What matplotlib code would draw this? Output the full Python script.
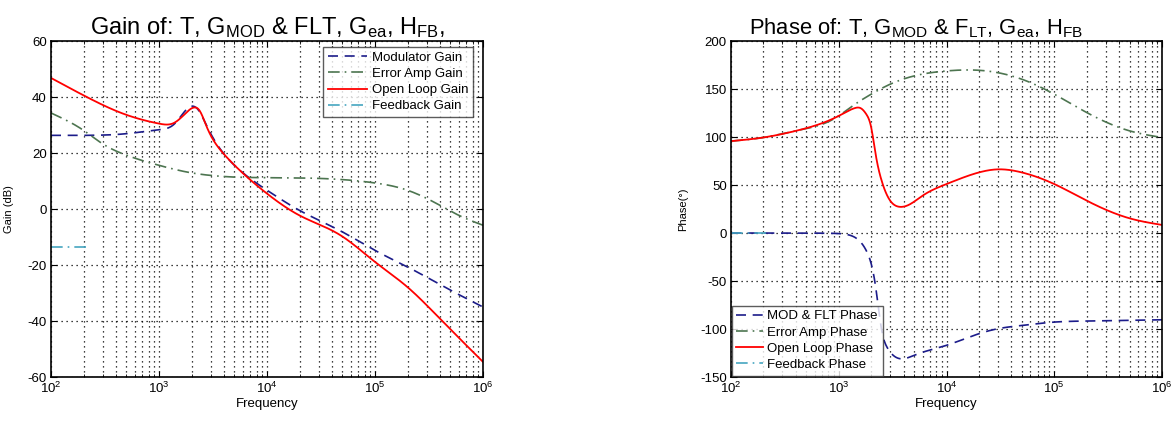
import numpy as np
import matplotlib
matplotlib.use("Agg")
import matplotlib.pyplot as plt
from matplotlib.ticker import LogLocator, NullFormatter

plt.rcParams['font.family'] = ['Liberation Sans', 'DejaVu Sans']
plt.rcParams['mathtext.fontset'] = 'custom'
plt.rcParams['mathtext.rm'] = 'Liberation Sans'
plt.rcParams['mathtext.it'] = 'Liberation Sans'
plt.rcParams['axes.unicode_minus'] = False

# ---- Gain data (dB) ----
f_ol_gain = [100, 200, 469, 1000, 1370, 1690, 2080, 2370, 2770, 3200, 3950, 5600,
             10000, 20000, 48000, 100000, 200000, 400000, 1000000]
ol_gain = [46.8, 40.6, 34.0, 30.5, 30.7, 33.5, 36.2, 35.2, 29.3, 24.5, 19.8, 13.8,
           5.5, -2.3, -9.4, -18.9, -27.9, -39.2, -54.6]

f_mod_gain = [100, 200, 500, 1000, 1400, 2000, 2300, 2800, 3500, 5000, 10000, 20000,
              50000, 100000, 200000, 500000, 1000000]
mod_gain = [26.3, 26.3, 26.9, 28.3, 30.5, 36.7, 35.5, 29.3, 22.7, 15.6, 6.7, -0.5,
            -8.2, -14.8, -20.7, -29.0, -35.0]

f_ea_gain = [100, 200, 300, 500, 1000, 2000, 3000, 5000, 10000, 20000, 50000,
             100000, 200000, 400000, 600000, 1000000]
ea_gain = [34.3, 28.1, 23.3, 19.2, 15.6, 12.9, 12.0, 11.4, 11.2, 11.1, 10.5,
           9.3, 6.7, 1.3, -2.3, -5.8]

f_fb = [100, 215]
fb_gain = [-13.6, -13.6]

# ---- Phase data (deg) ----
f_ol_ph = [100, 200, 400, 1000, 1400, 1600, 1800, 2000, 2200, 2500, 3000, 3600,
           4500, 6000, 10000, 20000, 30000, 50000, 100000, 200000, 500000, 1000000]
ol_ph = [95.7, 99.5, 106.4, 122.0, 130.0, 130.0, 123.8, 110.0, 82.0, 54.5, 33.7, 27.4,
         29.5, 38.9, 51.0, 63.1, 66.3, 63.1, 51.0, 33.7, 15.3, 8.4]

f_ea_ph = [100, 200, 400, 1000, 1200, 2000, 3000, 5000, 10000, 20000, 30000, 50000,
           100000, 200000, 500000, 1000000]
ea_ph = [95.7, 99.5, 106.4, 122.0, 128.5, 144.6, 155.0, 163.6, 168.8, 169.5, 167.0, 160.2,
         144.6, 125.5, 106.4, 99.5]

f_mod_ph = [100, 200, 400, 700, 1000, 1300, 1600, 1800, 2000, 2200, 2500, 2800, 3200,
            4000, 5000, 10000, 20000, 30000, 50000, 100000, 200000, 1000000]
mod_ph = [0.0, 0.0, 0.0, -0.2, -0.6, -2.7, -9.6, -18.3, -32.0, -56.0, -101.0, -118.8, -127.4,
          -131.0, -127.4, -117.0, -104.9, -99.7, -96.3, -92.8, -91.7, -90.4]

fb_ph = [0.0, 0.0]

C_MOD = '#1c1c8a'
C_EA = '#4d7550'
C_OL = '#ff0000'
C_FB = '#45a5c0'


def smooth(fx, fy, n=600):
    """Natural cubic spline through the read points, in log-frequency."""
    x = np.log10(np.asarray(fx, float))
    y = np.asarray(fy, float)
    k = len(x)
    h = np.diff(x)
    A = np.zeros((k, k))
    b = np.zeros(k)
    A[0, 0] = A[-1, -1] = 1.0
    for i in range(1, k - 1):
        A[i, i - 1] = h[i - 1]
        A[i, i] = 2 * (h[i - 1] + h[i])
        A[i, i + 1] = h[i]
        b[i] = 6 * ((y[i + 1] - y[i]) / h[i] - (y[i] - y[i - 1]) / h[i - 1])
    M = np.linalg.solve(A, b)
    xs = np.linspace(x[0], x[-1], n)
    idx = np.clip(np.searchsorted(x, xs) - 1, 0, k - 2)
    x0, x1 = x[idx], x[idx + 1]
    hh = h[idx]
    ys = (M[idx] * (x1 - xs) ** 3 / (6 * hh) + M[idx + 1] * (xs - x0) ** 3 / (6 * hh)
          + (y[idx] / hh - M[idx] * hh / 6) * (x1 - xs)
          + (y[idx + 1] / hh - M[idx + 1] * hh / 6) * (xs - x0))
    return 10 ** xs, ys


fig = plt.figure(figsize=(11.76, 4.22), dpi=100)
ax1 = fig.add_axes([51 / 1176, 45 / 422, 432 / 1176, 336 / 422])
ax2 = fig.add_axes([731 / 1176, 45 / 422, 431 / 1176, 336 / 422])

FS = 9.5


def style(ax):
    ax.set_xscale('log')
    ax.set_xlim(1e2, 1e6)
    ax.xaxis.set_major_locator(LogLocator(base=10, numticks=10))
    ax.xaxis.set_minor_locator(LogLocator(base=10, subs=np.arange(2, 10), numticks=10))
    ax.xaxis.set_minor_formatter(NullFormatter())
    ax.grid(True, which='major', axis='both', color='black', linestyle=(0, (1, 3)), linewidth=0.9)
    ax.grid(True, which='minor', axis='x', color='black', linestyle=(0, (1, 3)), linewidth=0.9)
    ax.tick_params(which='both', direction='in', top=True, right=True, labelsize=FS)
    ax.tick_params(which='major', length=4, pad=3)
    ax.tick_params(which='minor', length=2)
    for s in ax.spines.values():
        s.set_linewidth(1.2)
    ax.set_xlabel('Frequency', fontsize=FS, labelpad=1)


DASH = (0, (6, 4))
DASHDOT = (0, (7, 3, 1, 3))

# Gain plot
x, y = smooth(f_mod_gain, mod_gain)
ax1.plot(x, y, color=C_MOD, linestyle=DASH, lw=1.2, label='Modulator Gain')
x, y = smooth(f_ea_gain, ea_gain)
ax1.plot(x, y, color=C_EA, linestyle=DASHDOT, lw=1.2, label='Error Amp Gain')
x, y = smooth(f_ol_gain, ol_gain)
ax1.plot(x, y, color=C_OL, linestyle='-', lw=1.3, label='Open Loop Gain')
ax1.plot(f_fb, fb_gain, color=C_FB, linestyle=DASHDOT, lw=1.2, label='Feedback Gain')
style(ax1)
ax1.set_ylim(-60, 60)
ax1.set_yticks(np.arange(-60, 61, 20))
ax1.set_ylabel('Gain (dB)', fontsize=8)
ax1.yaxis.set_label_coords(-0.085, 0.5)
ax1.set_title('Gain of: T, G$_{\\mathrm{MOD}}$ & FLT, G$_{\\mathrm{ea}}$, H$_{\\mathrm{FB}}$,',
              fontsize=17, pad=5)
leg1 = ax1.legend(loc='upper right', bbox_to_anchor=(0.977, 0.982), borderaxespad=0,
                  fontsize=FS, frameon=True, fancybox=False,
                  edgecolor='#333333', handlelength=3.0, handletextpad=0.35,
                  borderpad=0.35, labelspacing=0.3)
leg1.get_frame().set_linewidth(1.0)

# Phase plot
x, y = smooth(f_mod_ph, mod_ph)
ax2.plot(x, y, color=C_MOD, linestyle=DASH, lw=1.2, label='MOD & FLT Phase')
x, y = smooth(f_ea_ph, ea_ph)
ax2.plot(x, y, color=C_EA, linestyle=DASHDOT, lw=1.2, label='Error Amp Phase')
x, y = smooth(f_ol_ph, ol_ph)
ax2.plot(x, y, color=C_OL, linestyle='-', lw=1.3, label='Open Loop Phase')
ax2.plot(f_fb, fb_ph, color=C_FB, linestyle=DASHDOT, lw=1.2, label='Feedback Phase')
style(ax2)
ax2.set_ylim(-150, 200)
ax2.set_yticks(np.arange(-150, 201, 50))
ax2.set_ylabel('Phase(°)', fontsize=8)
ax2.yaxis.set_label_coords(-0.10, 0.5)
ax2.set_title('Phase of: T, G$_{\\mathrm{MOD}}$ & F$_{\\mathrm{LT}}$, G$_{\\mathrm{ea}}$, H$_{\\mathrm{FB}}$',
              fontsize=15.8, pad=5, x=0.43)
leg2 = ax2.legend(loc='lower left', bbox_to_anchor=(0.002, 0.004), borderaxespad=0,
                  fontsize=FS, frameon=True, fancybox=False,
                  edgecolor='#333333', handlelength=2.0, handletextpad=0.35,
                  borderpad=0.35, labelspacing=0.3)
leg2.get_frame().set_linewidth(1.0)

fig.savefig('out.png', dpi=100)
